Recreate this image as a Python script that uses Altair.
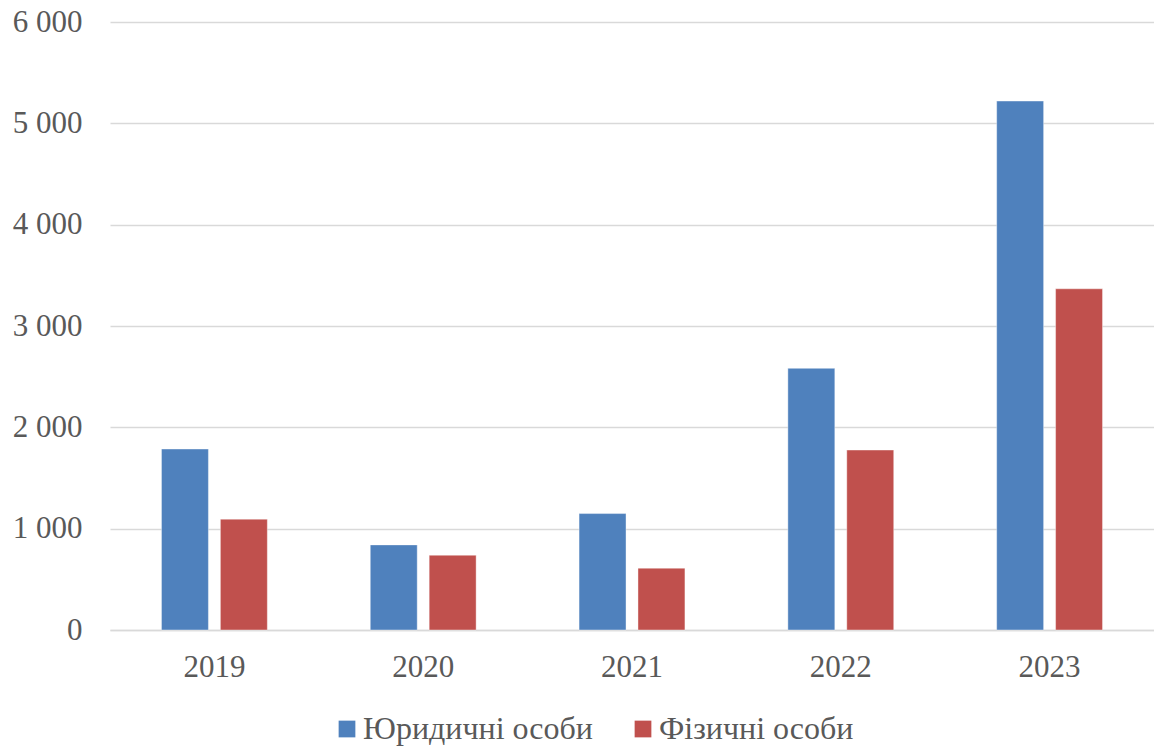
import altair as alt
import pandas as pd

years = ["2019", "2020", "2021", "2022", "2023"]
series_names = ["Юридичні особи", "Фізичні особи"]
legal = [1786, 840, 1149, 2582, 5220]
physical = [1094, 738, 610, 1776, 3367]
y_ticks = [0, 1000, 2000, 3000, 4000, 5000, 6000]
colors = ["#4F81BD", "#C0504D"]

rows = []
for i, yr in enumerate(years):
    rows.append({"year": yr, "series": series_names[0], "value": legal[i]})
    rows.append({"year": yr, "series": series_names[1], "value": physical[i]})
df = pd.DataFrame(rows)

FONT = "Liberation Serif, DejaVu Serif, serif"
GRAY = "#595959"

chart = alt.Chart(df).mark_bar(
    stroke="#ffffff", strokeWidth=0.8, strokeOpacity=0.5
).encode(
    x=alt.X("year:N", sort=years, title=None,
            scale=alt.Scale(paddingInner=0.493, paddingOuter=0.2465),
            axis=alt.Axis(labelAngle=0, labelFont=FONT, labelFontSize=31,
                          labelColor=GRAY, ticks=False, labelPadding=22,
                          domainColor="#d9d9d9", domainWidth=1.5, grid=False)),
    xOffset=alt.XOffset("series:N", sort=series_names,
                        scale=alt.Scale(paddingInner=0.203, paddingOuter=0)),
    y=alt.Y("value:Q", title=None,
            scale=alt.Scale(domain=[0, 6000], nice=False),
            axis=alt.Axis(values=y_ticks, labelFont=FONT, labelFontSize=31,
                          labelColor=GRAY, ticks=False, domain=False,
                          labelPadding=28, gridColor="#d9d9d9", gridWidth=1.5,
                          labelExpr="replace(format(datum.value, ','), ',', ' ')")),
    color=alt.Color("series:N", sort=series_names,
                    scale=alt.Scale(domain=series_names, range=colors),
                    legend=alt.Legend(title=None, orient="none", direction="horizontal",
                                      legendX=221, legendY=691,
                                      symbolType="square", symbolSize=280,
                                      symbolStrokeWidth=0,
                                      labelFont=FONT, labelFontSize=32,
                                      labelColor=GRAY, labelLimit=400,
                                      labelOffset=0, columnPadding=34)),
).properties(
    width=1044, height=608,
    autosize=alt.AutoSizeParams(type="none"),
    padding={"left": 110, "top": 22, "right": 0, "bottom": 117},
    background="white",
).configure_view(strokeWidth=0)

chart.save("out.html", embed_options={"renderer": "svg", "actions": False})
